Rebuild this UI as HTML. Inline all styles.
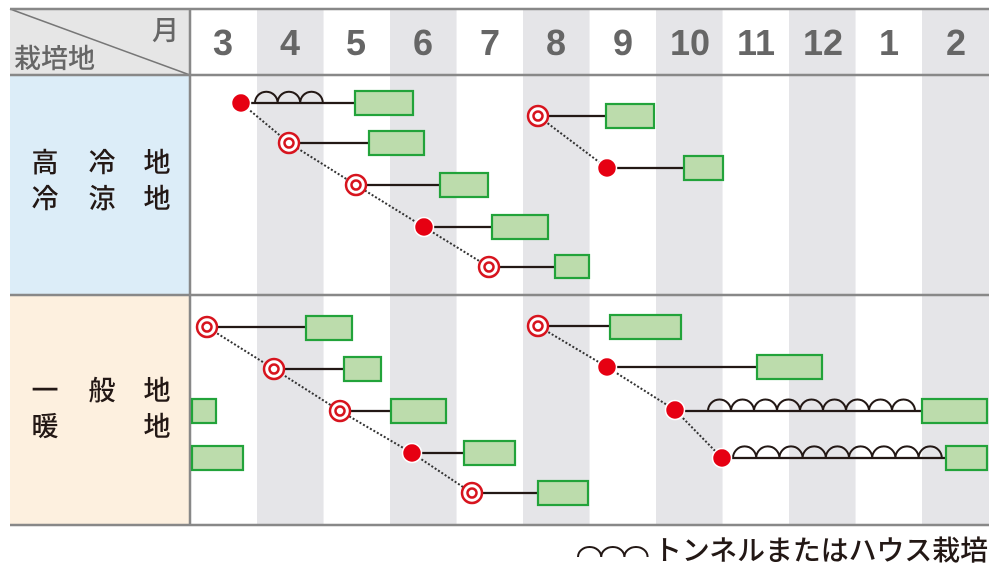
<!DOCTYPE html>
<html><head><meta charset="utf-8"><style>
html,body{margin:0;padding:0;background:#fff;}
svg{display:block;}
text{font-family:"Liberation Sans","Noto Sans CJK JP",sans-serif;}
</style></head><body>
<svg width="1000" height="566" viewBox="0 0 1000 566" xmlns="http://www.w3.org/2000/svg">
<rect x="190" y="8" width="799" height="517" fill="#fff"/>
<g fill="#e5e5e8">
<rect x="257" y="8" width="66.6" height="517"/>
<rect x="390" y="8" width="66.6" height="517"/>
<rect x="523" y="8" width="66.6" height="517"/>
<rect x="656" y="8" width="66.6" height="517"/>
<rect x="789" y="8" width="66.6" height="517"/>
<rect x="922" y="8" width="67" height="517"/>
</g>
<rect x="10" y="8" width="180" height="67" fill="#e6e6e6"/>
<rect x="10" y="75" width="180" height="220" fill="#dcedf8"/>
<rect x="10" y="295" width="180" height="230" fill="#fdf0df"/>
<line x1="10" y1="9" x2="190" y2="75" stroke="#777" stroke-width="1.5"/>
<g stroke="#888" stroke-width="2.5">
<line x1="10" y1="9" x2="989" y2="9"/>
<line x1="10" y1="75" x2="989" y2="75"/>
<line x1="10" y1="295" x2="989" y2="295"/>
<line x1="10" y1="525" x2="989" y2="525"/>
<line x1="190" y1="8" x2="190" y2="525"/>
</g>
<text x="152" y="40" font-size="27" fill="#666" font-weight="500">月</text>
<text x="14" y="68" font-size="27" fill="#666" font-weight="500">栽培地</text>
<g font-size="36" font-weight="bold" fill="#666" text-anchor="middle">
<text x="223" y="55">3</text><text x="290" y="55">4</text><text x="356" y="55">5</text>
<text x="423" y="55">6</text><text x="490" y="55">7</text><text x="556" y="55">8</text>
<text x="623" y="55">9</text><text x="690" y="55">10</text><text x="756" y="55">11</text>
<text x="823" y="55">12</text><text x="889" y="55">1</text><text x="956" y="55">2</text>
</g>
<g font-size="27" fill="#231815" text-anchor="middle" font-weight="500">
<text x="45" y="172">高</text><text x="102" y="172">冷</text><text x="157" y="172">地</text>
<text x="45" y="208">冷</text><text x="102" y="208">涼</text><text x="157" y="208">地</text>
<text x="45" y="400">一</text><text x="102" y="400">般</text><text x="157" y="400">地</text>
<text x="45" y="436">暖</text><text x="157" y="436">地</text>
</g>
<g stroke="#333" stroke-width="2" stroke-dasharray="2,2" fill="none">
<polyline points="241,103 289,143 356,185 424,227 489,267"/>
<polyline points="538,116 607,168"/>
<polyline points="207,327 274,369 340,411 412,453 472,493"/>
<polyline points="538,326 607,367 675,410 722,458"/>
</g>
<g stroke="#231815" stroke-width="2.2">
<line x1="241" y1="103" x2="355" y2="103"/>
<line x1="289" y1="143" x2="369" y2="143"/>
<line x1="356" y1="185" x2="440" y2="185"/>
<line x1="424" y1="227" x2="492" y2="227"/>
<line x1="489" y1="267" x2="555" y2="267"/>
<line x1="538" y1="116" x2="606" y2="116"/>
<line x1="607" y1="168" x2="684" y2="168"/>
<line x1="207" y1="327" x2="306" y2="327"/>
<line x1="274" y1="369" x2="344" y2="369"/>
<line x1="340" y1="411" x2="391" y2="411"/>
<line x1="412" y1="453" x2="464" y2="453"/>
<line x1="472" y1="493" x2="538" y2="493"/>
<line x1="538" y1="326" x2="610" y2="326"/>
<line x1="607" y1="367" x2="757" y2="367"/>
<line x1="675" y1="411" x2="922" y2="411"/>
<line x1="722" y1="458" x2="946" y2="458"/>
</g>
<g stroke="#231815" stroke-width="2" fill="none">
<path d="M255 103 a11.3 11.3 0 0 1 22.6 0 a11.3 11.3 0 0 1 22.6 0 a11.3 11.3 0 0 1 22.6 0"/>
<path d="M708 411 a11.5 11.5 0 0 1 23 0 a11.5 11.5 0 0 1 23 0 a11.5 11.5 0 0 1 23 0 a11.5 11.5 0 0 1 23 0 a11.5 11.5 0 0 1 23 0 a11.5 11.5 0 0 1 23 0 a11.5 11.5 0 0 1 23 0 a11.5 11.5 0 0 1 23 0 a11.5 11.5 0 0 1 23 0"/>
<path d="M733 458 a11.6 11.6 0 0 1 23.2 0 a11.6 11.6 0 0 1 23.2 0 a11.6 11.6 0 0 1 23.2 0 a11.6 11.6 0 0 1 23.2 0 a11.6 11.6 0 0 1 23.2 0 a11.6 11.6 0 0 1 23.2 0 a11.6 11.6 0 0 1 23.2 0 a11.6 11.6 0 0 1 23.2 0 a11.6 11.6 0 0 1 23.2 0"/>
<path d="M578 557 a11.6 10 0 0 1 23.2 0 a11.6 10 0 0 1 23.2 0 a11.6 10 0 0 1 23.2 0"/>
</g>
<g fill="#bcdcac" stroke="#22a33a" stroke-width="2.2">
<rect x="355" y="91" width="58" height="24"/>
<rect x="369" y="131" width="55" height="24"/>
<rect x="440" y="173" width="48" height="24"/>
<rect x="492" y="215" width="56" height="24"/>
<rect x="555" y="255" width="34" height="23"/>
<rect x="606" y="104" width="48" height="24"/>
<rect x="684" y="156" width="39" height="24"/>
<rect x="306" y="316" width="46" height="24"/>
<rect x="344" y="357" width="37" height="24"/>
<rect x="391" y="399" width="55" height="24"/>
<rect x="464" y="441" width="51" height="24"/>
<rect x="538" y="481" width="50" height="24"/>
<rect x="192" y="399" width="24" height="24"/>
<rect x="192" y="446" width="51" height="24"/>
<rect x="610" y="315" width="71" height="24"/>
<rect x="757" y="355" width="65" height="24"/>
<rect x="922" y="399" width="65" height="24"/>
<rect x="946" y="446" width="41" height="24"/>
</g>
<g fill="#e60012" stroke="#fff" stroke-width="1.5">
<circle cx="241" cy="103" r="9.5"/>
<circle cx="424" cy="227" r="9.5"/>
<circle cx="607" cy="168" r="9.5"/>
<circle cx="412" cy="453" r="9.5"/>
<circle cx="607" cy="367" r="9.5"/>
<circle cx="675" cy="410" r="9.5"/>
<circle cx="722" cy="458" r="9.5"/>
</g>
<g fill="#fff" stroke="#d7141e" stroke-width="2.5">
<circle cx="289" cy="143" r="10"/><circle cx="289" cy="143" r="4.5"/>
<circle cx="356" cy="185" r="10"/><circle cx="356" cy="185" r="4.5"/>
<circle cx="489" cy="267" r="10"/><circle cx="489" cy="267" r="4.5"/>
<circle cx="538" cy="116" r="10"/><circle cx="538" cy="116" r="4.5"/>
<circle cx="207" cy="327" r="10"/><circle cx="207" cy="327" r="4.5"/>
<circle cx="274" cy="369" r="10"/><circle cx="274" cy="369" r="4.5"/>
<circle cx="340" cy="411" r="10"/><circle cx="340" cy="411" r="4.5"/>
<circle cx="472" cy="493" r="10"/><circle cx="472" cy="493" r="4.5"/>
<circle cx="538" cy="326" r="10"/><circle cx="538" cy="326" r="4.5"/>
</g>
<text x="654" y="560" font-size="28" fill="#231815" font-weight="500" textLength="334" lengthAdjust="spacingAndGlyphs">トンネルまたはハウス栽培</text>
</svg>
</body></html>
